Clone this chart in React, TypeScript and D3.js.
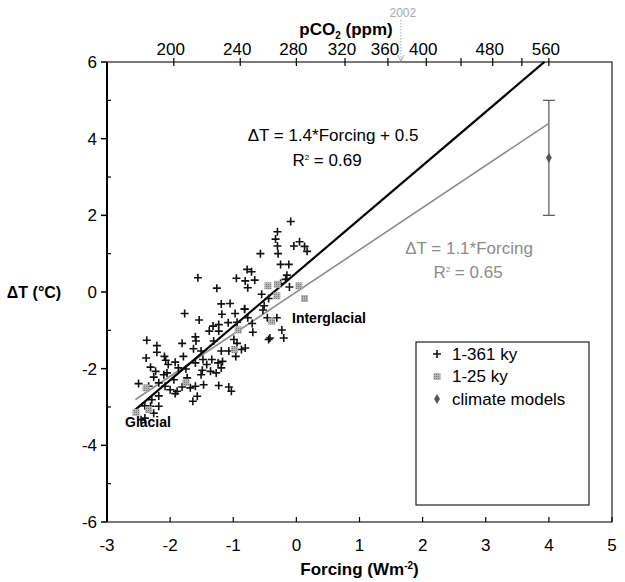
import React from 'react';
import * as d3 from 'd3';

// 1-361 ky reconstruction: [forcing (W/m2), deltaT (C)]
const ky361Points: [number, number][] = [
  [-0.09, 1.84], [-0.30, 1.57], [-0.33, 1.38], [-0.30, 1.20], [-0.29, 1.00],
  [-0.04, 1.20], [0.05, 1.31], [0.13, 1.19], [0.17, 1.06], [-0.57, 1.00],
  [-0.25, 0.72], [-0.12, 0.72], [-0.78, 0.59], [-0.71, 0.53], [-0.95, 0.36],
  [-0.81, 0.29], [-0.66, 0.31], [-0.77, 0.11], [-0.15, 0.44], [-0.17, 0.33],
  [-0.25, 0.22], [-0.11, 0.13], [-1.26, 0.10], [-0.55, -0.06], [-1.19, -0.31],
  [-1.05, -0.30], [-0.82, -0.44], [-0.51, -0.36], [-0.44, -0.17], [-1.56, 0.37],
  [-1.77, -0.56], [-1.54, -0.73], [-1.38, -1.02], [-1.32, -0.89], [-2.37, -1.26],
  [-2.21, -1.40], [-1.81, -1.34], [-1.60, -1.17], [-1.59, -1.28], [-1.63, -1.48],
  [-2.21, -1.57], [-2.09, -1.68], [-2.38, -1.72], [-2.07, -1.78], [-1.79, -1.68],
  [-2.31, -1.96], [-2.03, -1.89], [-1.92, -1.83], [-2.23, -2.07], [-2.05, -2.11],
  [-1.87, -1.98], [-1.75, -2.01], [-1.60, -1.85], [-1.48, -1.76], [-1.34, -1.76],
  [-2.26, -2.22], [-2.10, -2.16], [-2.50, -2.39], [-2.34, -2.46], [-2.08, -2.46],
  [-2.00, -2.55], [-1.89, -2.59], [-1.92, -2.65], [-1.81, -2.48], [-1.68, -2.50],
  [-1.60, -2.46], [-1.47, -2.42], [-1.57, -2.72], [-1.64, -2.85], [-2.18, -2.71],
  [-2.29, -2.81], [-2.40, -2.97], [-2.31, -2.98], [-2.18, -2.98], [-2.26, -3.16],
  [-2.46, -3.33], [-2.40, -3.29], [-1.73, -2.24], [-1.49, -2.04], [-1.51, -2.16],
  [-1.94, -2.29], [-2.18, -2.37], [-1.51, -1.54], [-1.42, -1.89], [-1.31, -1.28],
  [-1.36, -2.07], [-0.82, -0.45], [-0.97, -0.56], [-1.18, -0.58], [-1.08, -0.80],
  [-0.94, -0.79], [-1.23, -0.85], [-1.23, -1.02], [-0.77, -0.67], [-0.70, -0.82],
  [-0.69, -1.05], [-0.53, -0.47], [-0.46, -0.67], [-0.31, -0.67], [-0.23, -0.99],
  [-0.20, -1.20], [-0.44, -1.24], [-0.42, -1.20], [-0.99, -1.24], [-0.94, -1.34],
  [-0.81, -1.46], [-0.87, -1.50], [-1.07, -1.54], [-0.96, -1.68], [-1.19, -1.54],
  [-1.24, -1.85], [-1.17, -1.81], [-1.19, -1.98], [-1.23, -2.44], [-1.07, -2.48],
  [-1.03, -2.59], [-1.27, -2.11],
];

// 1-25 ky reconstruction
const ky25Points: [number, number][] = [
  [-0.45, 0.16], [-0.30, 0.20], [0.04, 0.16], [0.13, -0.17], [-0.31, -0.10],
  [-2.38, -2.50], [-1.75, -2.36], [-2.34, -3.07], [-2.54, -3.14],
  [-0.92, -0.99], [-0.98, -1.50], [-0.39, -0.76],
];

// climate models: forcing, mean, low, high
const modelForcing = 4;
const modelMean = 3.5;
const modelRange = [2.0, 5.0];

const fitAll = { slope: 1.4, intercept: 0.5, from: -2.55, to: 3.93 };
const fit25 = { slope: 1.1, intercept: 0, from: -2.55, to: 4 };

const xTicks = [-3, -2, -1, 0, 1, 2, 3, 4, 5];
const yTicks = [-6, -4, -2, 0, 2, 4, 6];
const yMinorTicks = [-5, -3, -1, 1, 3, 5];
const co2Ticks = [200, 240, 280, 320, 360, 400, 440, 480, 520, 560];
const co2Labels = [200, 240, 280, 320, 360, 400, 480, 560];
const co2Year2002 = 373;

const legendItems = ['1-361 ky', '1-25 ky', 'climate models'];

const FONT = '"Liberation Sans", Arial, Helvetica, sans-serif';
const GRAY = '#8c8c8c';

export default function App() {
  const width = 625;
  const height = 582;
  const plot = { left: 107, right: 612, top: 62, bottom: 522 };

  const x = d3.scaleLinear().domain([-3, 5]).range([plot.left, plot.right]);
  const y = d3.scaleLinear().domain([-6, 6]).range([plot.bottom, plot.top]);
  // forcing = 4 * log2(C / 280)
  const xCo2 = d3.scaleLog()
    .domain([280 * Math.pow(2, -3 / 4), 280 * Math.pow(2, 5 / 4)])
    .range([plot.left, plot.right]);

  const line = d3.line<number>()
    .x((f) => x(f));

  const fitPath = (fit: typeof fitAll) =>
    line.y((f) => y(fit.slope * f + fit.intercept))([fit.from, fit.to]);

  const cross = (cx: number, cy: number, k: number) => (
    <path key={k} d={`M${cx - 4},${cy}H${cx + 4}M${cx},${cy - 4}V${cy + 4}`} stroke="#111" strokeWidth={1.6} />
  );

  const ex = x(modelForcing);
  const a2002 = xCo2(co2Year2002);

  return (
    <svg width={width} height={height} style={{ position: 'absolute', left: 0, top: 0, background: '#fff' }}
      fontFamily={FONT}>
      <defs>
        <pattern id="dots" width="2" height="2" patternUnits="userSpaceOnUse">
          <rect width="2" height="2" fill="#b5b5b5" />
          <rect width="1" height="1" fill="#777" />
        </pattern>
      </defs>

      {/* frame */}
      <rect x={plot.left} y={plot.top} width={plot.right - plot.left} height={plot.bottom - plot.top}
        fill="none" stroke="#222" strokeWidth={1.2} />
      <line x1={plot.left} x2={plot.left} y1={plot.top} y2={plot.bottom} stroke="#000" strokeWidth={2} />

      {/* left axis */}
      {yTicks.map((t) => (
        <g key={'y' + t}>
          <line x1={plot.left - 6} x2={plot.left} y1={y(t)} y2={y(t)} stroke="#000" strokeWidth={1.5} />
          <text x={plot.left - 10} y={y(t)} dy="0.35em" textAnchor="end" fontSize={17}>{t}</text>
        </g>
      ))}
      {yMinorTicks.map((t) => (
        <line key={'ym' + t} x1={plot.left} x2={plot.left + 4} y1={y(t)} y2={y(t)} stroke="#000" strokeWidth={1.2} />
      ))}
      <text x={34} y={y(0)} dy="0.35em" textAnchor="middle" fontSize={16} fontWeight="bold">ΔT (°C)</text>

      {/* bottom axis */}
      {xTicks.map((t) => (
        <g key={'x' + t}>
          <line x1={x(t)} x2={x(t)} y1={plot.bottom} y2={plot.bottom - 5} stroke="#000" strokeWidth={1.2} />
          <text x={x(t)} y={551} textAnchor="middle" fontSize={17}>{t}</text>
        </g>
      ))}
      <text x={(plot.left + plot.right) / 2} y={575} textAnchor="middle" fontSize={17} fontWeight="bold">
        Forcing (Wm<tspan dy={-6} fontSize={10}>-2</tspan><tspan dy={6}>)</tspan>
      </text>

      {/* top axis: pCO2 */}
      {co2Ticks.map((t) => (
        <line key={'c' + t} x1={xCo2(t)} x2={xCo2(t)} y1={plot.top - 4} y2={plot.top + 4} stroke="#000" strokeWidth={1.2} />
      ))}
      {co2Labels.map((t) => (
        <text key={'cl' + t} x={xCo2(t) - 3} y={55} textAnchor="middle" fontSize={17}>{t}</text>
      ))}
      <text x={346} y={35} textAnchor="middle" fontSize={17} fontWeight="bold">
        pCO<tspan dy={4} fontSize={10}>2</tspan><tspan dy={-4}> (ppm)</tspan>
      </text>
      <text x={a2002 + 2} y={17} textAnchor="middle" fontSize={12} fill="#aaa">2002</text>
      <line x1={a2002} x2={a2002} y1={20} y2={plot.top - 1} stroke="#aaa" strokeWidth={1} strokeDasharray="1.5,1.5" />
      <path d={`M${a2002 - 3},${plot.top - 7}L${a2002},${plot.top - 1}L${a2002 + 3},${plot.top - 7}`} fill="none" stroke="#aaa" strokeWidth={1} />

      {/* regression lines */}
      <path d={fitPath(fit25) ?? ''} fill="none" stroke={GRAY} strokeWidth={1.6} />
      <path d={fitPath(fitAll) ?? ''} fill="none" stroke="#000" strokeWidth={2.2} />

      {/* points */}
      {ky361Points.map(([f, t], i) => cross(x(f), y(t), i))}
      {ky25Points.map(([f, t], i) => (
        <rect key={'s' + i} x={x(f) - 3.5} y={y(t) - 3.5} width={7} height={7} fill="url(#dots)" />
      ))}

      {/* climate models */}
      <line x1={ex} x2={ex} y1={y(modelRange[0])} y2={y(modelRange[1])} stroke="#777" strokeWidth={1.5} />
      <line x1={ex - 6} x2={ex + 6} y1={y(modelRange[0])} y2={y(modelRange[0])} stroke="#555" strokeWidth={1.2} />
      <line x1={ex - 6} x2={ex + 6} y1={y(modelRange[1])} y2={y(modelRange[1])} stroke="#555" strokeWidth={1.2} />
      <path d={d3.symbol(d3.symbolDiamond, 30)() ?? ''} transform={`translate(${ex},${y(modelMean)})`} fill="#555" />

      {/* annotations */}
      <text x={333} y={141} textAnchor="middle" fontSize={17}>ΔT = 1.4*Forcing + 0.5</text>
      <text x={327} y={166} textAnchor="middle" fontSize={17}>
        R<tspan dy={-6} fontSize={8}>2</tspan><tspan dy={6}> = 0.69</tspan>
      </text>
      <text x={469} y={254} textAnchor="middle" fontSize={17} fill={GRAY}>ΔT = 1.1*Forcing</text>
      <text x={468} y={278} textAnchor="middle" fontSize={17} fill={GRAY}>
        R<tspan dy={-6} fontSize={8}>2</tspan><tspan dy={6}> = 0.65</tspan>
      </text>
      <text x={292} y={323} fontSize={14} fontWeight="bold">Interglacial</text>
      <text x={125} y={427} fontSize={14} fontWeight="bold">Glacial</text>

      {/* legend */}
      <rect x={416} y={342} width={173} height={163} fill="#fff" stroke="#222" strokeWidth={1.2} />
      {legendItems.map((label, i) => {
        const ly = 354 + i * 22.5;
        return (
          <g key={label}>
            {i === 0 && cross(437, ly, 9999)}
            {i === 1 && <rect x={433.5} y={ly - 3.5} width={7} height={7} fill="url(#dots)" />}
            {i === 2 && <path d={d3.symbol(d3.symbolDiamond, 30)() ?? ''} transform={`translate(437,${ly})`} fill="#555" />}
            <text x={452} y={ly} dy="0.35em" fontSize={17}>{label}</text>
          </g>
        );
      })}
    </svg>
  );
}
